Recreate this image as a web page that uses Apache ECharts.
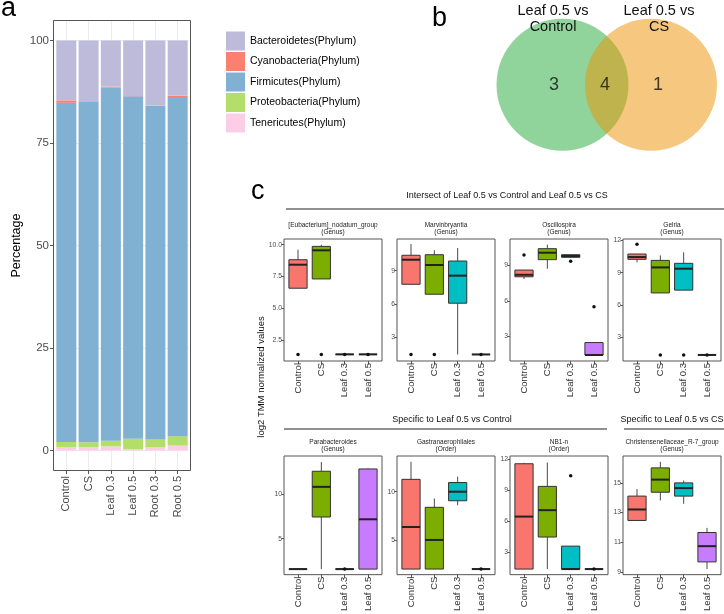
<!DOCTYPE html>
<html><head><meta charset="utf-8">
<script src="https://cdn.jsdelivr.net/npm/echarts@6/dist/echarts.min.js"></script>
<style>html,body{margin:0;padding:0;background:#fff}#c{width:724px;height:614px}</style>
</head><body><div id="c"></div>
<script>
// ---------- Panel a: relative abundance ----------
const samples = ['Control','CS','Leaf 0.3','Leaf 0.5','Root 0.3','Root 0.5'];
const phyla = ['Bacteroidetes(Phylum)','Cyanobacteria(Phylum)','Firmicutes(Phylum)','Proteobacteria(Phylum)','Tenericutes(Phylum)'];
const phylaColors = ['#bebada','#fb8072','#80b1d3','#b3de69','#fccde5'];
const bacteroidetes = [14.6,14.8,11.3,13.55,15.85,13.5];
const cyanobacteria = [0.6,0.1,0.2,0.05,0.05,0.3];
const firmicutes = [82.7,83.1,86.1,83.55,81.4,82.7];
const proteobacteria = [1.3,1.2,1.4,2.55,1.9,2.3];
const tenericutes = [0.8,0.8,1.0,0.3,0.8,1.2];
const percentTicks = [0,25,50,75,100];

// ---------- Panel b: Venn ----------
const vennSets = ['Leaf 0.5 vs\nControl','Leaf 0.5 vs\nCS'];
const vennCounts = [3,4,1];

// ---------- Panel c: boxplots ----------
const groups = ['Control','CS','Leaf 0.3','Leaf 0.5'];
const groupColors = ['#f8766d','#7cae00','#00bfc4','#c77cff'];
const panelNames = ['[Eubacterium]_nodatum_group','Marvinbryantia','Oscillospira','Gelria',
  'Parabacteroides','Gastranaerophilales','NB1-n','Christensenellaceae_R-7_group'];
const panelRanks = ['(Genus)','(Genus)','(Genus)','(Genus)','(Genus)','(Order)','(Order)','(Genus)'];
// each box: [lower whisker, Q1, median, Q3, upper whisker]
const eubacterium = [[6.58,6.58,8.43,8.82,9.61],[7.31,7.31,9.56,9.87,10.0],[1.38,1.38,1.38,1.38,1.38],[1.38,1.38,1.38,1.38,1.38]];
const marvinbryantia = [[7.77,7.77,9.99,10.39,11.4],[6.87,6.87,9.51,10.44,10.84],[1.43,6.06,8.55,9.87,11.05],[1.43,1.43,1.43,1.43,1.43]];
const oscillospira = [[7.84,8.03,8.2,8.6,8.6],[8.71,9.48,10.07,10.41,10.75],[9.68,9.68,9.79,9.9,9.9],[1.41,1.41,1.41,2.46,2.46]];
const gelria = [[9.96,10.24,10.45,10.73,10.73],[7.13,7.13,9.49,10.14,10.6],[7.39,7.39,9.37,9.87,10.89],[1.39,1.39,1.39,1.39,1.39]];
const parabacteroides = [[1.55,1.55,1.55,1.55,1.55],[1.55,7.46,10.88,12.65,13.69],[1.55,1.55,1.55,1.55,1.55],[1.55,1.55,7.2,12.91,12.98]];
const gastranaerophilales = [[1.98,1.98,6.34,11.28,13.1],[1.98,1.98,5.0,8.38,9.3],[8.59,9.06,10.0,10.95,11.56],[1.98,1.98,1.98,1.98,1.98]];
const nb1n = [[1.37,1.37,6.45,11.56,11.65],[1.37,4.47,7.07,9.37,11.68],[1.37,1.37,1.37,3.59,3.59],[1.37,1.37,1.37,1.37,1.37]];
const christensenellaceae = [[12.47,12.47,13.21,14.11,14.59],[13.82,14.37,15.22,16.01,16.42],[13.59,14.11,14.65,15.0,15.16],[9.2,9.68,10.74,11.66,11.97]];
// outliers: [group index, value]
const eubacteriumOut = [[0,1.38],[1,1.38],[2,1.38],[3,1.38]];
const marvinbryantiaOut = [[0,1.43],[1,1.43],[3,1.43]];
const oscillospiraOut = [[0,9.87],[2,9.34],[3,5.49]];
const gelriaOut = [[0,11.63],[1,1.39],[2,1.39],[3,1.39]];
const parabacteroidesOut = [[2,1.55]];
const gastranaerophilalesOut = [[3,1.98]];
const nb1nOut = [[2,10.4],[3,1.37]];
const christensenellaceaeOut = [];
const yRanges = [[0.86,10.45],[0.84,11.86],[0.9,11.23],[0.83,12.12],[0.92,14.38],[1.4,13.7],[0.83,12.31],[8.82,16.81]];
const yTicks = [[2.5,5,7.5,10],[3,6,9],[3,6,9],[3,6,9,12],[5,10],[5,10],[3,6,9,12],[9,11,13,15]];

const boxData = [eubacterium, marvinbryantia, oscillospira, gelria, parabacteroides, gastranaerophilales, nb1n, christensenellaceae];
const outData = [eubacteriumOut, marvinbryantiaOut, oscillospiraOut, gelriaOut, parabacteroidesOut, gastranaerophilalesOut, nb1nOut, christensenellaceaeOut];

const FONT = "'Liberation Sans', Arial, sans-serif";
const chart = echarts.init(document.getElementById('c'));
const grids = [], xAxes = [], yAxes = [], series = [], graphics = [];

// ---- panel a
grids.push({left:55.2, top:20, width:133.6, height:451, show:false});
// x axis 0: category axis carrying the bars (hidden)
xAxes.push({type:'category', gridIndex:0, data:samples, show:false, boundaryGap:true});
// x axis 1: value axis aligned with category centres (labels, ticks, grid lines)
const xIdx = samples.map((s,i)=>i+1);
xAxes.push({type:'value', gridIndex:0, position:'bottom', min:0.5, max:6.5,
  axisLine:{show:false},
  axisTick:{show:true, length:3, lineStyle:{color:'#555'}, customValues:xIdx},
  axisLabel:{customValues:xIdx, formatter:v=>samples[Math.round(v)-1], rotate:90, fontSize:11, color:'#4d4d4d', margin:5, fontFamily:FONT},
  splitLine:{show:true, lineStyle:{color:'#ebebeb', width:1}}});
yAxes.push({type:'value', gridIndex:0, min:-5, max:105, offset:2.2,
  axisLine:{show:false},
  axisTick:{show:true, length:3, lineStyle:{color:'#555'}, customValues:percentTicks},
  axisLabel:{customValues:percentTicks, fontSize:11.5, color:'#4d4d4d', margin:4, fontFamily:FONT},
  splitLine:{show:true, lineStyle:{color:'#ebebeb', width:1}},
  name:'Percentage', nameLocation:'middle', nameGap:30, nameTextStyle:{fontSize:12.5, color:'#000', fontFamily:FONT}});
const stackOrder = [[tenericutes,4],[proteobacteria,3],[firmicutes,2],[cyanobacteria,1],[bacteroidetes,0]];
stackOrder.forEach(([vals,k])=>{
  series.push({type:'bar', name:phyla[k], stack:'a', xAxisIndex:0, yAxisIndex:0, barWidth:20,
    data: vals, itemStyle:{color:phylaColors[k]}, silent:true});
});
graphics.push({type:'rect', shape:{x:53.5, y:20.5, width:137, height:450}, style:{fill:'none', stroke:'#555', lineWidth:1}, z:10});

// ---- panel c boxplots
const lefts = [284,397,510,623,284,397,510,623];
const tops = [239,239,239,239,456,456,456,456];
const BOXW = 0.78;
function boxRender(params, api){
  const x = api.value(0);
  const pHi = api.coord([x, api.value(5)]);
  const pQ3 = api.coord([x, api.value(4)]);
  const pMd = api.coord([x, api.value(3)]);
  const pQ1 = api.coord([x, api.value(2)]);
  const pLo = api.coord([x, api.value(1)]);
  const gi = api.value(6);
  const w = api.size([BOXW, 0])[0];
  const cx = pMd[0];
  return {type:'group', children:[
    {type:'line', shape:{x1:cx,y1:pHi[1],x2:cx,y2:pQ3[1]}, style:{stroke:'#4a4a4a', lineWidth:1}},
    {type:'line', shape:{x1:cx,y1:pQ1[1],x2:cx,y2:pLo[1]}, style:{stroke:'#4a4a4a', lineWidth:1}},
    {type:'rect', shape:{x:cx-w/2, y:pQ3[1], width:w, height:pQ1[1]-pQ3[1]}, style:{fill:groupColors[gi], stroke:'#333', lineWidth:1}},
    {type:'line', shape:{x1:cx-w/2,y1:pMd[1],x2:cx+w/2,y2:pMd[1]}, style:{stroke:'#222', lineWidth:2}}
  ]};
}
const gIdx = groups.map((g,i)=>i+1);
for (let p=0; p<8; p++){
  const gi = grids.length;
  const xi = xAxes.length, yi = yAxes.length;
  grids.push({left:lefts[p], top:tops[p], width:98, height:122, show:true, borderColor:'#555', borderWidth:1});
  xAxes.push({type:'value', gridIndex:gi, min:0.4, max:4.6,
    axisLine:{show:false},
    axisTick:{show:true, length:3, lineStyle:{color:'#555'}, customValues:gIdx},
    axisLabel:{customValues:gIdx, formatter:v=>groups[Math.round(v)-1], rotate:90, fontSize:9.5, color:'#333', margin:2, fontFamily:FONT},
    splitLine:{show:false}});
  yAxes.push({type:'value', gridIndex:gi, min:yRanges[p][0], max:yRanges[p][1],
    axisLine:{show:false},
    axisTick:{show:true, length:2.5, lineStyle:{color:'#555'}, customValues:yTicks[p]},
    axisLabel:{customValues:yTicks[p], formatter: v => p===0 ? v.toFixed(1) : String(v), fontSize:6.8, color:'#4d4d4d', margin:2, fontFamily:FONT},
    splitLine:{show:false}});
  series.push({type:'custom', xAxisIndex:xi, yAxisIndex:yi, renderItem:boxRender, silent:true,
    data: boxData[p].map((b,i)=>[i+1, b[0], b[1], b[2], b[3], b[4], i]), encode:{x:0, y:[1,2,3,4,5]}, z:2});
  series.push({type:'scatter', xAxisIndex:xi, yAxisIndex:yi, symbolSize:3.5, silent:true,
    itemStyle:{color:'#111', opacity:1}, data: outData[p].map(([g,v])=>[g+1, v]), z:3});
  graphics.push({type:'text', x:lefts[p]+49, y:tops[p]-13.5, style:{text:panelNames[p], font:'6.5px '+FONT, fill:'#222', textAlign:'center', textVerticalAlign:'middle'}});
  graphics.push({type:'text', x:lefts[p]+49, y:tops[p]-6.5, style:{text:panelRanks[p], font:'6.5px '+FONT, fill:'#222', textAlign:'center', textVerticalAlign:'middle'}});
}

// ---- panel b Venn (own hidden value grid)
const vg = grids.length, vx = xAxes.length, vy = yAxes.length;
grids.push({left:480, top:0, width:240, height:170, show:false});
xAxes.push({type:'value', gridIndex:vg, min:0, max:240, show:false});
yAxes.push({type:'value', gridIndex:vg, min:0, max:170, inverse:true, show:false});
const vennCircles = [[82.5,84.8,66],[171,84.8,66]];
const vennFill = ['rgba(33,169,57,0.5)','rgba(237,145,0,0.5)'];
series.push({type:'custom', xAxisIndex:vx, yAxisIndex:vy, silent:true, data:vennCircles,
  renderItem:(params, api)=>{
    const c = api.coord([api.value(0), api.value(1)]);
    const r = api.size([api.value(2), 0])[0];
    return {type:'circle', shape:{cx:c[0], cy:c[1], r:r}, style:{fill:vennFill[params.dataIndex]}};
  }});
const vennLabelPos = [[74,85],[125,85],[178,85]];
series.push({type:'scatter', xAxisIndex:vx, yAxisIndex:vy, silent:true, symbolSize:0,
  data: vennCounts.map((n,i)=>({value:vennLabelPos[i], name:String(n)})),
  label:{show:true, position:'inside', formatter:p=>p.name, fontSize:18, color:'#111', fontFamily:FONT}, z:5});
const vennTitlePos = [553, 659];
vennSets.forEach((t,i)=>{
  t.split('\n').forEach((line,j)=>{
    graphics.push({type:'text', x:vennTitlePos[i], y:10.5+j*16, style:{text:line, font:'14.5px '+FONT, fill:'#111', textAlign:'center', textVerticalAlign:'middle'}, z:10});
  });
});

// ---- static annotations
graphics.push({type:'text', x:1, y:9, style:{text:'a', font:'27px '+FONT, fill:'#000', textAlign:'left', textVerticalAlign:'middle'}});
graphics.push({type:'text', x:432, y:19, style:{text:'b', font:'27px '+FONT, fill:'#000', textAlign:'left', textVerticalAlign:'middle'}});
graphics.push({type:'text', x:251, y:192, style:{text:'c', font:'27px '+FONT, fill:'#000', textAlign:'left', textVerticalAlign:'middle'}});
graphics.push({type:'text', x:507, y:196, style:{text:'Intersect of Leaf 0.5 vs Control and Leaf 0.5 vs CS', font:'9px '+FONT, fill:'#111', textAlign:'center', textVerticalAlign:'middle'}});
graphics.push({type:'line', shape:{x1:286,y1:209,x2:724,y2:209}, style:{stroke:'#222', lineWidth:1.2}});
graphics.push({type:'text', x:452, y:420, style:{text:'Specific to Leaf 0.5 vs Control', font:'9px '+FONT, fill:'#111', textAlign:'center', textVerticalAlign:'middle'}});
graphics.push({type:'line', shape:{x1:284,y1:429,x2:607,y2:429}, style:{stroke:'#222', lineWidth:1.2}});
graphics.push({type:'text', x:672, y:420, style:{text:'Specific to Leaf 0.5 vs CS', font:'9px '+FONT, fill:'#111', textAlign:'center', textVerticalAlign:'middle'}});
graphics.push({type:'line', shape:{x1:624,y1:429,x2:724,y2:429}, style:{stroke:'#222', lineWidth:1.2}});
graphics.push({type:'text', x:261, y:377, rotation:Math.PI/2, style:{text:'log2 TMM normalized values', font:'9.5px '+FONT, fill:'#111', textAlign:'center', textVerticalAlign:'middle'}});

chart.setOption({
  animation:false,
  backgroundColor:'#fff',
  textStyle:{fontFamily:FONT},
  legend:{data:phyla, orient:'vertical', left:226, top:31.5, itemWidth:19, itemHeight:19, itemGap:1.5, padding:0,
    icon:'rect', selectedMode:false, textStyle:{fontSize:10.5, color:'#000', fontFamily:FONT}},
  grid:grids, xAxis:xAxes, yAxis:yAxes, series:series, graphic:graphics
});
</script></body></html>
